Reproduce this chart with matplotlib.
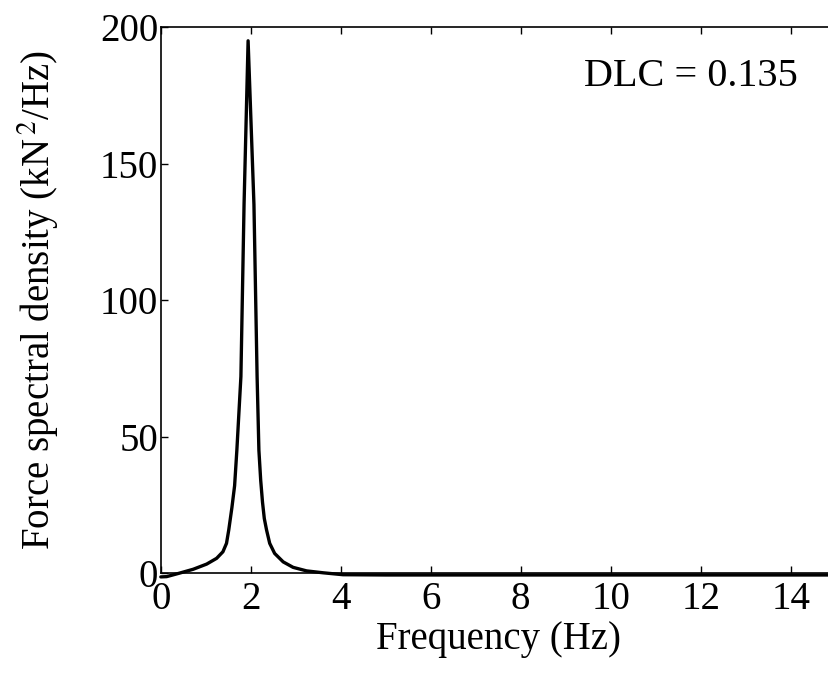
"""Force spectral density with DLC annotation.
"""
import matplotlib
matplotlib.use('Agg')
import matplotlib.pyplot as plt

# values (Hz, kN^2/Hz)
freq = [0.0, 0.13, 0.42, 0.72, 1.02, 1.24, 1.38, 1.46, 1.51, 1.58,
        1.64, 1.69, 1.78, 1.85, 1.94, 2.07, 2.14, 2.18, 2.22, 2.26,
        2.30, 2.35, 2.42, 2.53, 2.72, 2.94, 3.24, 3.61, 4.05,
        5.0, 7.0, 9.0, 11.0, 13.0, 15.0]
psd = [-1.4, -1.3, 0.0, 1.4, 3.3, 5.4, 7.8, 10.9, 15.8, 24.0,
       32.0, 45.0, 72.0, 135.0, 195.0, 135.0, 72.0, 45.0, 34.0, 26.0,
       20.0, 15.8, 10.9, 7.2, 4.1, 2.1, 0.8, 0.1, -0.6,
       -0.7, -0.7, -0.7, -0.7, -0.7, -0.7]

x_ticks = [0, 2, 4, 6, 8, 10, 12, 14]
y_ticks = [0, 50, 100, 150, 200]
dlc = 0.135

plt.rcParams['font.family'] = ['Liberation Serif', 'DejaVu Serif']
plt.rcParams['mathtext.fontset'] = 'stix'

fig = plt.figure(figsize=(8.29, 6.79), dpi=100)
ax = fig.add_axes([0.194, 0.156, 0.814, 0.804])

ax.plot(freq, psd, color='black', linewidth=2.4, solid_joinstyle='round',
        solid_capstyle='round', clip_on=False)

ax.set_xlim(0, 15)
ax.set_ylim(0, 200)
ax.set_xticks(x_ticks)
ax.set_yticks(y_ticks)
ax.tick_params(direction='in', length=5, width=1, labelsize=28,
               top=True, right=False)
ax.tick_params(axis='x', pad=6)
ax.tick_params(axis='y', pad=2)

ax.set_xlabel('Frequency (Hz)', fontsize=28, labelpad=2)
ax.set_ylabel(r'Force spectral density (kN$^{\,2}$/Hz)', fontsize=28, labelpad=28)

ax.text(9.4, 182, 'DLC = {0}'.format(dlc), fontsize=29, ha='left', va='center')

for side in ['left', 'bottom', 'top']:
    ax.spines[side].set_linewidth(1.2)

fig.savefig('out.png', dpi=100)
